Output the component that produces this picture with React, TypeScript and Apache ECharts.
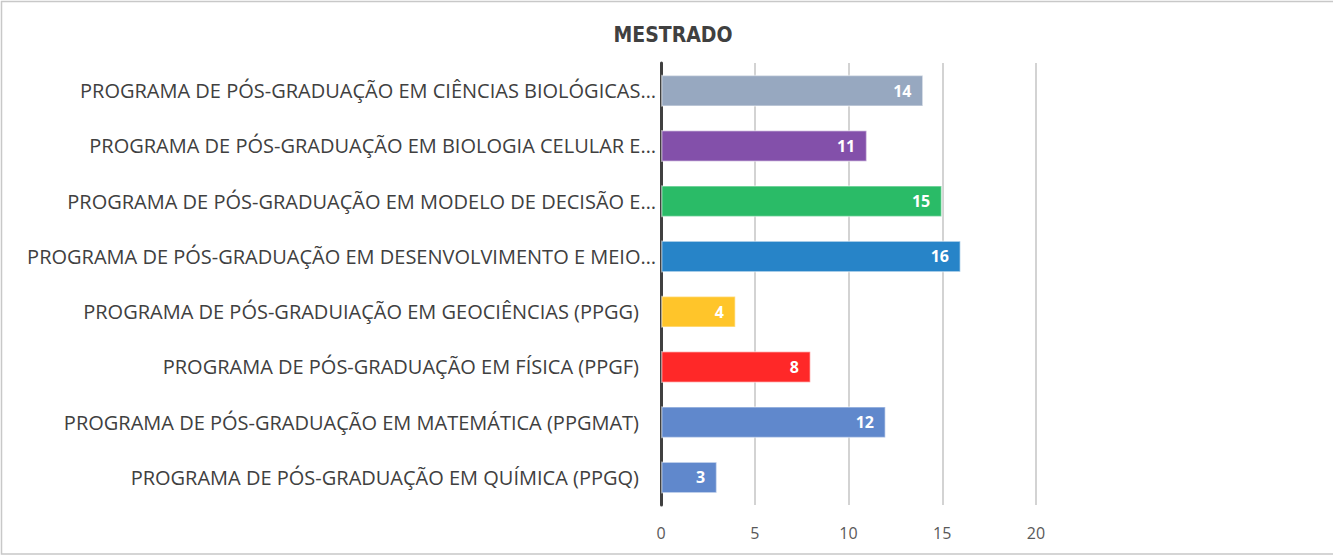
import React, { useEffect, useRef } from "react";
import * as echarts from "echarts";

const categories = [
  "PROGRAMA DE PÓS-GRADUAÇÃO EM CIÊNCIAS BIOLÓGICAS…",
  "PROGRAMA DE PÓS-GRADUAÇÃO EM BIOLOGIA CELULAR E…",
  "PROGRAMA DE PÓS-GRADUAÇÃO EM MODELO DE DECISÃO E…",
  "PROGRAMA DE PÓS-GRADUAÇÃO EM DESENVOLVIMENTO E MEIO…",
  "PROGRAMA DE PÓS-GRADUIAÇÃO EM GEOCIÊNCIAS (PPGG)",
  "PROGRAMA DE PÓS-GRADUAÇÃO EM FÍSICA (PPGF)",
  "PROGRAMA DE PÓS-GRADUAÇÃO EM MATEMÁTICA (PPGMAT)",
  "PROGRAMA DE PÓS-GRADUAÇÃO EM QUÍMICA (PPGQ)",
];
const values = [14, 11, 15, 16, 4, 8, 12, 3];
const barColors = ["#97a8c0", "#8350aa", "#2abb67", "#2784c8", "#ffc52a", "#ff2828", "#6088cc", "#6088cc"];
const xTicks = [0, 5, 10, 15, 20];
const title = "MESTRADO";

export default function App() {
  const ref = useRef<HTMLDivElement>(null);
  useEffect(() => {
    if (!ref.current) return;
    const chart = echarts.init(ref.current, null, { renderer: "svg" });
    chart.setOption({
      animation: false,
      backgroundColor: "#ffffff",
      title: {
        text: title,
        left: 668,
        textAlign: "center",
        top: 19,
        textStyle: {
          fontFamily: "DejaVu Sans Condensed",
          fontWeight: "bold",
          fontSize: 21,
          color: "#404040",
        },
      },
      graphic: [
        {
          type: "rect",
          shape: { x: 1.5, y: 1.5, width: 1340, height: 552.5 },
          style: { fill: "none", stroke: "#c8c8c8", lineWidth: 1.5 },
          silent: true,
        },
      ],
      grid: { left: 661, top: 63, width: 375, height: 442, containLabel: false },
      xAxis: {
        type: "value",
        min: xTicks[0],
        max: xTicks[xTicks.length - 1],
        interval: 5,
        axisLine: { show: false },
        axisTick: { show: false },
        splitLine: { show: true, lineStyle: { color: "#c4c4c4", width: 1.5 } },
        axisLabel: {
          margin: 20,
          fontSize: 16,
          color: "#595959",
          fontFamily: "Open Sans",
        },
      },
      yAxis: {
        type: "category",
        inverse: true,
        data: categories,
        axisLine: { show: true, lineStyle: { color: "#404040", width: 3 } },
        axisTick: { show: false },
        axisLabel: {
          margin: 5,
          fontSize: 20,
          color: "#404040",
          fontFamily: "Open Sans",
          formatter: (v: string) => (v.endsWith("…") ? "{a|" + v + "}" : "{b|" + v + "}"),
          rich: {
            a: { fontSize: 20, color: "#404040", fontFamily: "Open Sans", padding: [0, 0, 0, 0] },
            b: { fontSize: 20, color: "#404040", fontFamily: "Open Sans", padding: [0, 17, 0, 0] },
          },
        },
      },
      series: [
        {
          type: "bar",
          data: values.map((v, i) => ({
            value: v,
            itemStyle: { color: barColors[i], borderColor: "rgba(255,255,255,0.45)", borderWidth: 1.5 },
          })),
          barWidth: 32,
          label: {
            show: true,
            position: "insideRight",
            distance: 12,
            color: "#ffffff",
            fontWeight: "bold",
            fontSize: 16,
            fontFamily: "Open Sans",
          },
        },
      ],
    });
    return () => chart.dispose();
  }, []);
  return (
    <div
      ref={ref}
      style={{ position: "fixed", left: 0, top: 0, width: 1333, height: 556 }}
    />
  );
}
